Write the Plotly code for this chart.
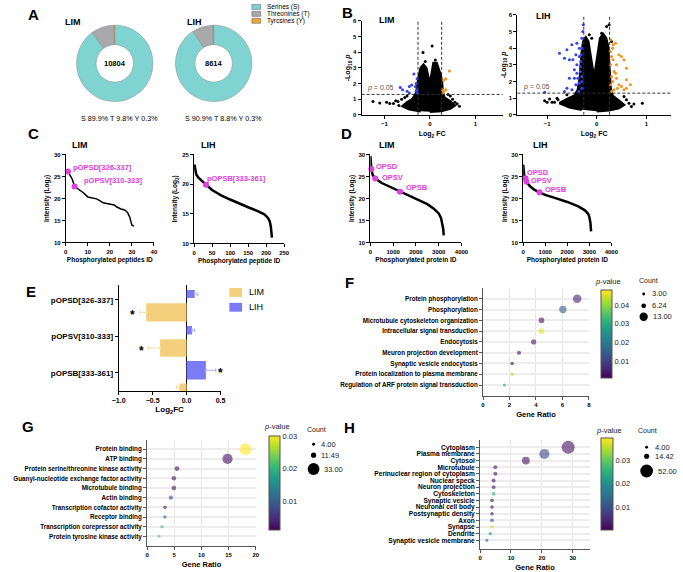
import math
import plotly.graph_objects as go

W, H = 683, 572
FONT = "Liberation Sans, Arial, sans-serif"


def fx(px):
    return px / W


def fy(py):
    return 1 - py / H


# ======================= DATA =======================
# --- A: phospho-site composition
site_labels = ["Serines (S)", "Threonines (T)", "Tyrcsines (Y)"]
site_short = ["S", "T", "Y"]
lim_site_pct = [89.9, 9.8, 0.3]
lih_site_pct = [90.9, 8.8, 0.3]
lim_total = 10804
lih_total = 8614

# --- B: volcano plots (threshold, dense-core outline, individual points)
fc_cut = 0.26
p_cut = 0.05
lim_core_fc = [0.0, 0.25, 0.45, 0.55, 0.45, 0.32, 0.28, 0.27, 0.24, 0.2, 0.15, 0.08, 0.04, 0.0,
               -0.04, -0.08, -0.14, -0.2, -0.24, -0.27, -0.3, -0.38, -0.5, -0.6, -0.45, -0.2]
lim_core_p = [0.2, 0.25, 0.4, 0.6, 0.85, 1.1, 1.5, 2.0, 2.5, 2.9, 3.3, 3.3, 2.7, 1.9,
              2.5, 3.0, 3.2, 3.0, 2.5, 2.0, 1.4, 1.0, 0.8, 0.55, 0.35, 0.22]
lim_ns_fc = [-1.25, -1.1, -0.95, -0.88, -0.8, -0.75, -0.7, -0.62, -0.55, -0.5, 0.5, 0.55, 0.6,
             0.5, 0.45, -0.15, 0.05, 0.12, -0.1, 0.4, 0.65, -0.68]
lim_ns_p = [0.85, 0.75, 0.8, 0.72, 0.72, 0.9, 0.85, 1.0, 1.1, 1.2, 1.0, 0.8, 0.7,
            0.6, 1.2, 3.98, 4.4, 3.5, 3.4, 1.3, 0.55, 0.6]
lim_down_fc = [-0.65, -0.6, -0.45, -0.4, -0.35, -0.3, -0.28, -0.3, -0.28, -0.45, -0.5, -0.32, -0.27]
lim_down_p = [1.75, 1.6, 1.8, 1.9, 2.6, 2.0, 2.3, 1.5, 1.6, 1.4, 1.5, 1.8, 1.4]
lim_up_fc = [0.43, 0.35, 0.3, 0.28, 0.3, 0.35, 0.28]
lim_up_p = [2.8, 2.3, 2.2, 1.6, 1.5, 1.6, 1.4]

lih_core_fc = [0.0, 0.25, 0.45, 0.55, 0.45, 0.32, 0.28, 0.27, 0.26, 0.25, 0.23, 0.19, 0.13, 0.07,
               0.03, 0.0, -0.05, -0.09, -0.13, -0.17, -0.22, -0.27, -0.3, -0.32, -0.34, -0.38,
               -0.45, -0.6, -0.75, -0.55, -0.3]
lih_core_p = [0.22, 0.28, 0.4, 0.6, 0.85, 1.15, 1.6, 2.3, 3.0, 3.6, 4.1, 4.6, 4.85, 4.6,
              3.8, 3.0, 2.25, 2.9, 3.8, 4.4, 4.65, 4.4, 3.8, 3.0, 2.2, 1.5,
              1.15, 0.95, 0.7, 0.45, 0.3]
lih_ns_fc = [-1.05, -0.95, -0.9, -1.0, -0.85, -0.8, -0.72, -0.65, -0.6, 0.6, 0.65, 0.75, 0.92,
             0.5, 0.55, -0.15, -0.1, 0.2, 0.25, 0.1, 0.3, -0.78, 0.7]
lih_ns_p = [0.85, 0.95, 0.75, 0.75, 0.75, 1.0, 0.7, 0.72, 1.2, 0.9, 0.7, 0.65, 0.7,
            0.55, 1.1, 4.8, 4.6, 5.3, 5.4, 4.9, 4.4, 0.9, 0.5]
lih_down_fc = [-0.75, -0.65, -0.55, -0.6, -0.5, -0.4, -0.35, -0.3, -0.28, -0.27, -0.35, -0.4,
               -0.45, -0.55, -0.6, -0.65, -0.5, -0.42, -0.38, -0.33, -0.32, -0.3, -0.3, -0.36,
               -0.45, -0.48, -0.35, -1.05, -0.33, -0.31, -0.3, -0.3, -0.4, -0.42]
lih_down_p = [3.7, 3.4, 3.3, 3.9, 4.2, 4.3, 4.0, 4.6, 5.0, 5.4, 3.5, 3.0,
              2.7, 2.2, 1.6, 1.4, 1.5, 1.8, 2.2, 2.6, 3.2, 2.0, 1.6, 1.4,
              2.2, 3.3, 1.9, 1.35, 2.9, 3.6, 4.0, 2.3, 2.5, 3.6]
lih_up_fc = [0.28, 0.33, 0.38, 0.45, 0.5, 0.55, 0.6, 0.4, 0.35, 0.3, 0.3, 0.28, 0.32, 0.4,
             0.45, 0.5, 0.55, 0.6, 0.68, 0.6, 0.35, 0.3, 0.42, 0.28, 0.32, 0.38, 0.28, 0.33]
lih_up_p = [4.5, 4.2, 4.3, 3.6, 3.5, 3.3, 2.8, 3.0, 2.6, 2.3, 3.5, 3.0, 2.0, 2.2,
            1.8, 1.7, 1.5, 1.6, 1.8, 2.1, 1.5, 1.4, 1.6, 3.8, 4.0, 2.5, 1.8, 3.3]

# --- C: phosphorylated peptide intensity ranks
c_lim_id = list(range(1, 32))
c_lim_int = [26.1, 25.2, 24.3, 22.7, 22.4, 22.0, 21.6, 21.3, 20.8, 20.3, 20.2, 20.1, 20.0, 19.9,
             19.6, 19.3, 19.0, 18.9, 18.8, 18.8, 18.6, 18.5, 18.1, 17.8, 17.6, 17.5, 17.3, 16.8,
             15.8, 13.9, 13.7]
c_lih_id = [1, 3, 6, 12, 20, 33, 50, 75, 100, 125, 150, 175, 195, 205, 210, 213, 215, 216]
c_lih_int = [23.3, 22.2, 21.6, 21.1, 20.6, 19.9, 19.0, 18.1, 17.4, 16.7, 16.1, 15.5, 14.9,
             14.3, 13.7, 12.8, 11.5, 11.0]
c_lim_hl_name = ["pOPSD[326-337]", "pOPSV[310-333]"]
c_lim_hl_id = [1, 4]
c_lim_hl_int = [26.1, 22.7]
c_lih_hl_name = ["pOPSB[333-361]"]
c_lih_hl_id = [33]
c_lih_hl_int = [19.9]

# --- D: phosphorylated protein intensity ranks
d_lim_id = [1, 10, 40, 100, 214, 500, 1000, 1300, 1500, 2000, 2500, 2800, 3000, 3100, 3180,
            3200, 3220]
d_lim_int = [29.6, 28.5, 26.7, 25.3, 24.5, 23.5, 22.3, 21.5, 21.1, 20.0, 18.7, 17.6, 16.6,
             15.6, 14.0, 13.0, 11.6]
d_lih_id = [1, 10, 50, 104, 148, 300, 500, 740, 1000, 1500, 2000, 2500, 2800, 2950, 3000,
            3050, 3080]
d_lih_int = [27.7, 26.5, 25.2, 24.6, 23.8, 22.8, 22.0, 21.4, 20.8, 20.0, 19.2, 18.2, 17.3,
             16.5, 15.8, 14.5, 12.5]
d_hl_name = ["OPSD", "OPSV", "OPSB"]
d_lim_hl_id = [40, 214, 1300]
d_lim_hl_int = [26.7, 24.5, 21.5]
d_lih_hl_id = [104, 148, 740]
d_lih_hl_int = [24.6, 23.8, 21.4]

# --- E: opsin phosphopeptide fold changes
e_peptides = ["pOPSD[326-337]", "pOPSV[310-333]", "pOPSB[333-361]"]
e_lim_fc = [-0.595, -0.39, -0.105]
e_lim_err = [0.095, 0.17, 0.045]
e_lim_sig = [True, True, False]
e_lih_fc = [0.12, 0.08, 0.285]
e_lih_err = [0.045, 0.04, 0.145]
e_lih_sig = [False, False, True]

# --- F: GO biological process
f_terms = ["Protein phosphorylation", "Phosphorylation", "Microtubule cytoskeleton organization",
           "Intracellular signal transduction", "Endocytosis", "Meuron projection development",
           "Synaptic vesicle endocytosis", "Protein localization to plasma membrane",
           "Regulation of ARF protein signal transduction"]
f_ratio = [7.12, 6.04, 4.42, 4.42, 3.83, 2.72, 2.2, 2.2, 1.62]
f_count = [13, 11, 8, 8, 7, 5, 4, 4, 3]
f_pval = [0.005, 0.015, 0.003, 0.046, 0.004, 0.003, 0.002, 0.043, 0.027]

# --- G: GO molecular function
g_terms = ["Protein binding", "ATP binding", "Protein serine/threonine kinase activity",
           "Guanyl-nucleotide exchange factor activity", "Microtubule binding", "Actin binding",
           "Transcription cofactor activity", "Receptor binding",
           "Transcription corepressor activity", "Protein tyrosine kinase activity"]
g_ratio = [18.1, 14.8, 5.5, 4.93, 4.93, 4.38, 3.29, 3.29, 2.74, 2.19]
g_count = [33, 27, 10, 9, 9, 8, 6, 6, 5, 4]
g_pval = [0.03, 0.002, 0.002, 0.002, 0.002, 0.007, 0.003, 0.011, 0.021, 0.022]

# --- H: GO cellular component
h_terms = ["Cytoplasm", "Plasma membrane", "Cytosol", "Microtubule",
           "Perinuclear region of cytoplasm", "Nuclear speck", "Neuron projection",
           "Cytoskeleton", "Synaptic vesicle", "Neuronal cell body", "Postsynaptic density",
           "Axon", "Synapse", "Dendrite", "Synaptic vesicle membrane"]
h_ratio = [28.5, 20.8, 14.8, 4.93, 4.93, 4.38, 4.38, 4.38, 3.84, 3.84, 3.84, 3.84, 3.84, 3.29,
           2.19]
h_count = [52, 38, 27, 9, 9, 8, 8, 8, 7, 7, 7, 7, 7, 6, 4]
h_pval = [0.002, 0.008, 0.002, 0.002, 0.002, 0.002, 0.002, 0.026, 0.002, 0.002, 0.002, 0.008,
          0.037, 0.02, 0.01]

# ======================= STYLE =======================
site_colors = ["#7fd4d2", "#a9a9ab", "#eda33e"]
col_down, col_up = "#3342ee", "#f0921e"
pink = "#e23de0"
bar_lim, bar_lih = "#f4d07c", "#7b7cf5"
err_lim, err_lih = "#f7dea0", "#aeaef8"

fig = go.Figure()
annotations = []
shapes = []


def ann(text, x, y, size=7, bold=False, color="black", xanchor="center", yanchor="middle",
        angle=0):
    annotations.append(dict(text=text, x=fx(x), y=fy(y), xref="paper", yref="paper",
                            showarrow=False, xanchor=xanchor, yanchor=yanchor, textangle=angle,
                            font=dict(family=FONT, size=size, color=color,
                                      weight="bold" if bold else "normal")))


axes = {}


def tf(size=6, bold=True):
    return dict(family=FONT, size=size, color="black", weight="bold" if bold else "normal")


def base_axis(**kw):
    d = dict(showline=True, linecolor="black", linewidth=1, ticks="outside", ticklen=3,
             tickwidth=1, tickcolor="black", showgrid=False, zeroline=False, tickfont=tf(),
             fixedrange=True)
    d.update(kw)
    return d


def add_axes(i, xpx, ypx, xo, yo):
    xn = "xaxis" if i == 1 else f"xaxis{i}"
    yn = "yaxis" if i == 1 else f"yaxis{i}"
    axes[xn] = dict(domain=[fx(xpx[0]), fx(xpx[1])], anchor="y" if i == 1 else f"y{i}", **xo)
    axes[yn] = dict(domain=[fy(ypx[1]), fy(ypx[0])], anchor="x" if i == 1 else f"x{i}", **yo)


def ref(i):
    return ("x", "y") if i == 1 else (f"x{i}", f"y{i}")


# ---------------- A ----------------
for vals, dom_x, total, title, tx, pct_x in [
    (lim_site_pct, (71, 149), lim_total, "LIM", 67, 115),
    (lih_site_pct, (172, 250), lih_total, "LIH", 191, 221),
]:
    fig.add_trace(go.Pie(values=vals, labels=site_labels, hole=0.49, sort=False,
                         direction="clockwise", rotation=0, textinfo="none",
                         marker=dict(colors=site_colors, line=dict(color="#8a8a8a", width=0.5)),
                         domain=dict(x=[fx(dom_x[0]), fx(dom_x[1])], y=[fy(100), fy(22)]),
                         showlegend=False))
    ann(str(total), (dom_x[0] + dom_x[1]) / 2, 61, size=7.5, bold=True)
    ann(title, tx, 19, size=9, bold=True)
    ann(" ".join(f"{s} {v}%" for s, v in zip(site_short, vals)), pct_x, 117, size=7.2)

for k, (lab, col) in enumerate(zip(site_labels, site_colors)):
    y0 = 1.5 + 7 * k
    shapes.append(dict(type="rect", xref="paper", yref="paper", x0=fx(250), x1=fx(259),
                       y0=fy(y0 + 5), y1=fy(y0), fillcolor=col, line=dict(color="#555", width=0.5)))
    ann(lab, 263, y0 + 2.5, size=6.5, xanchor="left")

# ---------------- B ----------------
p_line = -math.log10(p_cut)
for i, xpx, ypx, xr, core, ns, dn, up, name, tpos in [
    (1, (362, 506), (18, 113), [-1.5, 1.6], (lim_core_fc, lim_core_p),
     (lim_ns_fc, lim_ns_p), (lim_down_fc, lim_down_p), (lim_up_fc, lim_up_p), "LIM", (378, 17)),
    (2, (521, 678), (12, 113), [-1.6, 1.5], (lih_core_fc, lih_core_p),
     (lih_ns_fc, lih_ns_p), (lih_down_fc, lih_down_p), (lih_up_fc, lih_up_p), "LIH", (538, 13)),
]:
    xa, ya = ref(i)
    add_axes(i, xpx, ypx,
             base_axis(range=xr, tickvals=[-1, 0, 1],
                       title=dict(text="Log<sub>2</sub> FC", font=tf(7), standoff=5)),
             base_axis(range=[0, 6], dtick=1,
                       title=dict(text="-Log<sub>10</sub> <i>p</i>", font=tf(7), standoff=1)))
    fig.add_trace(go.Scatter(x=core[0], y=core[1], fill="toself", fillcolor="black", mode="lines",
                             line=dict(color="black", width=2.5),
                             xaxis=xa, yaxis=ya, showlegend=False, hoverinfo="skip"))
    for (xs, ys), c in [(ns, "black"), (dn, col_down), (up, col_up)]:
        fig.add_trace(go.Scatter(x=xs, y=ys, mode="markers", marker=dict(color=c, size=3),
                                 xaxis=xa, yaxis=ya, showlegend=False))
    for xv in (-fc_cut, fc_cut):
        shapes.append(dict(type="line", xref=xa, yref=f"{ya} domain", x0=xv, x1=xv, y0=0, y1=1,
                           line=dict(color="#333", width=1, dash="3px,2px")))
    shapes.append(dict(type="line", xref=f"{xa} domain", yref=ya, x0=0, x1=1, y0=p_line,
                       y1=p_line, line=dict(color="#333", width=1, dash="3px,2px")))
    annotations.append(dict(text=f"<i>p</i> = {p_cut}", x=xr[0] + 0.08, y=p_line, xref=xa,
                            yref=ya, showarrow=False, xanchor="left", yanchor="bottom",
                            font=dict(family=FONT, size=7, color="#555")))
    ann(name, tpos[0], tpos[1], size=9, bold=True, xanchor="left")

# ---------------- C & D ----------------
cd_specs = [
    (3, (60, 150), (153, 242), [0, 40], 10, [10, 30], c_lim_id, c_lim_int, c_lim_hl_id,
     c_lim_hl_int, "Phosphorylated peptides ID", "LIM", (64, 143), 1.5),
    (4, (191, 283), (153, 243), [0, 250], 50, [10, 25], c_lih_id, c_lih_int, c_lih_hl_id,
     c_lih_hl_int, "Phosphorylated peptide ID", "LIH", (196, 143), 2.5),
    (5, (371, 464), (153, 242), [0, 4000], 1000, [10, 30], d_lim_id, d_lim_int, d_lim_hl_id,
     d_lim_hl_int, "Phosphorylated protein ID", "LIM", (378, 143), 2.5),
    (6, (527, 617), (153, 242), [0, 4000], 1000, [10, 30], d_lih_id, d_lih_int, d_lih_hl_id,
     d_lih_hl_int, "Phosphorylated protein ID", "LIH", (535, 143), 2.5),
]
for i, xpx, ypx, xr, dx, yr, xs, ys, hx, hy, xt, name, tpos, lw in cd_specs:
    xa, ya = ref(i)
    add_axes(i, xpx, ypx,
             base_axis(range=xr, dtick=dx, title=dict(text=xt, font=tf(6.5), standoff=3)),
             base_axis(range=yr, dtick=5,
                       title=dict(text="Intensity (Log<sub>2</sub>)", font=tf(6.5), standoff=3)))
    fig.add_trace(go.Scatter(x=xs, y=ys, mode="lines", line=dict(color="black", width=lw),
                             xaxis=xa, yaxis=ya, showlegend=False))
    fig.add_trace(go.Scatter(x=hx, y=hy, mode="markers", marker=dict(color=pink, size=6),
                             xaxis=xa, yaxis=ya, showlegend=False, cliponaxis=False))
    ann(name, tpos[0], tpos[1], size=9, bold=True, xanchor="left")

for txt, x, y in [(c_lim_hl_name[0], 65, 166), (c_lim_hl_name[1], 77, 179),
                  (c_lih_hl_name[0], 202, 177),
                  (d_hl_name[0], 375, 165), (d_hl_name[1], 381, 176), (d_hl_name[2], 405, 186),
                  (d_hl_name[0], 529, 171), (d_hl_name[1], 533, 179), (d_hl_name[2], 547, 188)]:
    ann(txt, x, y, size=7.5, bold=True, color=pink, xanchor="left")

# ---------------- E ----------------
e_pos = [2, 1, 0]
lih_offset, lih_width = [0.05, 0.05, -0.19], [0.22, 0.23, 0.51]
lim_offset, lim_width = [-0.59, -0.56, -0.5], [0.5, 0.48, 0.2]
add_axes(7, (114, 218), (285, 392),
         base_axis(range=[-1, 0.5], dtick=0.5, tickformat=".1f", zeroline=True,
                   zerolinecolor="black", zerolinewidth=1, tickfont=tf(7),
                   title=dict(text="Log<sub>2</sub>FC", font=tf(8), standoff=3)),
         base_axis(range=[-0.5, 2.41], tickvals=e_pos, ticktext=e_peptides, tickfont=tf(8)))
fig.add_trace(go.Bar(orientation="h", x=e_lih_fc, y=e_pos, offset=lih_offset, width=lih_width,
                     marker=dict(color=bar_lih, line=dict(width=0)),
                     error_x=dict(type="data", symmetric=False, array=e_lih_err,
                                  arrayminus=[0] * 3, color=err_lih, thickness=1, width=2),
                     xaxis="x7", yaxis="y7", showlegend=False, cliponaxis=False))
fig.add_trace(go.Bar(orientation="h", x=e_lim_fc, y=e_pos, offset=lim_offset, width=lim_width,
                     marker=dict(color=bar_lim, line=dict(width=0)),
                     error_x=dict(type="data", symmetric=False, array=[0] * 3,
                                  arrayminus=e_lim_err, color=err_lim, thickness=1, width=2),
                     xaxis="x7", yaxis="y7", showlegend=False, cliponaxis=False))
for k in range(3):
    if e_lim_sig[k]:
        annotations.append(dict(text="*", x=e_lim_fc[k] - e_lim_err[k] - 0.11,
                                y=e_pos[k] + lim_offset[k] + lim_width[k] / 2, xref="x7",
                                yref="y7", showarrow=False, yshift=-3,
                                font=dict(family=FONT, size=12, weight="bold")))
    if e_lih_sig[k]:
        annotations.append(dict(text="*", x=e_lih_fc[k] + e_lih_err[k] + 0.07,
                                y=e_pos[k] + lih_offset[k] + lih_width[k] / 2, xref="x7",
                                yref="y7", showarrow=False, yshift=-3,
                                font=dict(family=FONT, size=12, weight="bold")))
for k, (lab, col) in enumerate([("LIM", bar_lim), ("LIH", bar_lih)]):
    y0 = 288 + 15 * k
    shapes.append(dict(type="rect", xref="paper", yref="paper", x0=fx(227), x1=fx(240),
                       y0=fy(y0 + 9), y1=fy(y0), fillcolor=col, line=dict(width=0)))
    ann(lab, 245, y0 + 4.5, size=9, xanchor="left")


# ---------------- F, G, H ----------------
def size_map(counts, smin, smax):
    lo, hi = min(counts), max(counts)
    return [smin + (c - lo) / (hi - lo) * (smax - smin) for c in counts]


go_specs = [
    (8, (486, 594), (288, 397), [0, 8], 2, [-1, 9], f_terms, f_ratio, f_count, f_pval,
     (0.001, 0.048), [0.01, 0.02, 0.03, 0.04], (606, 290, 379, 11), (614, 281),
     (655, 280, 650, 656, [294, 306, 317]), (3, 8.5), 6.3),
    (9, (143, 254), (442, 549), [0, 20], 5, [-1.02, 9.92], g_terms, g_ratio, g_count, g_pval,
     (0.001, 0.03), [0.01, 0.02, 0.03], (267, 438, 533, 11), (276, 428),
     (316, 431, 313, 319, [446, 457, 471]), (3, 12), 6.3),
    (10, (483, 595), (442, 552), [0, 35.5], 10, [-1.34, 15.04], h_terms, h_ratio, h_count,
     h_pval, (0.0005, 0.039), [0.01, 0.02, 0.03], (606, 440, 533, 12), (615, 432),
     (654, 432, 653, 660, [449, 458, 473]), (3, 13), 6.6),
]
for (i, xpx, ypx, xr, dx, yr, terms, ratio, counts, pv, crange, cticks, cb, ttl, leg, srange,
     lab_size) in go_specs:
    xa, ya = ref(i)
    n = len(terms)
    ypos = [n - 1 - k for k in range(n)]
    add_axes(i, xpx, ypx,
             base_axis(range=xr, dtick=dx, linecolor="#555", tickcolor="#555", showgrid=True,
                       gridcolor="#e6e6e6", gridwidth=1,
                       title=dict(text="Gene Ratio", font=tf(7.5), standoff=4)),
             base_axis(range=yr, tickvals=ypos, ticktext=terms, linecolor="#555",
                       tickcolor="#555", showgrid=True, gridcolor="#ececec", gridwidth=2,
                       tickfont=tf(lab_size)))
    sizes = size_map(counts, *srange)
    fig.add_trace(go.Scatter(
        x=ratio, y=ypos, mode="markers", xaxis=xa, yaxis=ya, showlegend=False,
        marker=dict(size=sizes, color=pv, colorscale="Viridis", cmin=crange[0], cmax=crange[1],
                    opacity=0.6, line=dict(width=0),
                    colorbar=dict(x=fx(cb[0]), xanchor="left", y=fy(cb[1]), yanchor="top",
                                  len=(cb[2] - cb[1]) / H, lenmode="fraction", thickness=cb[3],
                                  thicknessmode="pixels", xpad=0, ypad=0, outlinewidth=1,
                                  outlinecolor="#555", tickvals=cticks, ticks="",
                                  tickfont=dict(family=FONT, size=7.5, color="#222")))))
    ann("<i>p</i>-value", ttl[0], ttl[1], size=7.5, color="#222")
    cx, cy, dot_x, txt_x, ly = leg
    ann("Count", cx, cy, size=7, color="#222")
    lo, hi = min(counts), max(counts)
    leg_counts = [lo, (lo * hi) ** 0.5, hi]
    leg_sizes = [srange[0] + (c - lo) / (hi - lo) * (srange[1] - srange[0]) for c in leg_counts]
    for c, s, yy in zip(leg_counts, leg_sizes, ly):
        r = s / 2
        shapes.append(dict(type="circle", xref="paper", yref="paper", x0=fx(dot_x - r),
                           x1=fx(dot_x + r), y0=fy(yy + r), y1=fy(yy - r), fillcolor="black",
                           line=dict(width=0)))
        ann(f"{c:.2f}", max(txt_x, dot_x + r + 3), yy, size=7.5, color="#222", xanchor="left")

# ---------------- panel letters ----------------
for letter, x, y in [("A", 27, 12), ("B", 348, 10), ("C", 27, 132), ("D", 347, 132),
                     ("E", 24, 292), ("F", 350, 282), ("G", 21, 428), ("H", 350, 429)]:
    ann(letter, x, y, size=15, bold=True)

fig.update_layout(width=W, height=H, margin=dict(l=0, r=0, t=0, b=0), paper_bgcolor="white",
                  plot_bgcolor="white", showlegend=False, barmode="overlay",
                  font=dict(family=FONT, color="black"), annotations=annotations,
                  shapes=shapes, **axes)
fig.write_html("out.html")
